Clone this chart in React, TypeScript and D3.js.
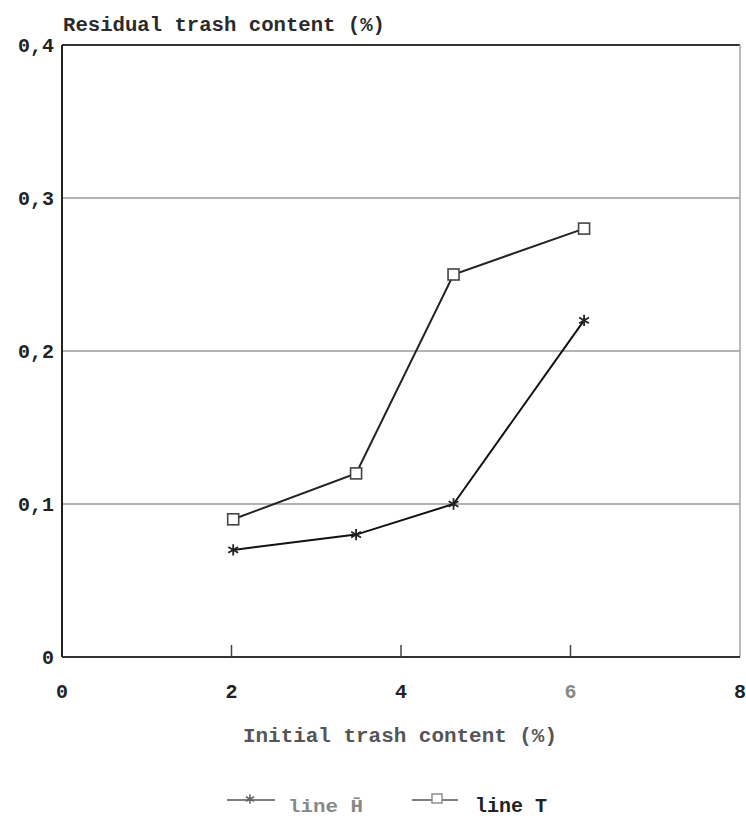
import React from 'react';
import * as d3 from 'd3';

// initial trash content (%)
const initialTrash = [2.02, 3.47, 4.62, 6.16];
// residual trash content (%)
const lineH = [0.07, 0.08, 0.1, 0.22];
const lineT = [0.09, 0.12, 0.25, 0.28];

const xTicks = [0, 2, 4, 6, 8];
const yTicks = [0, 0.1, 0.2, 0.3, 0.4];
const yTickLabels = ['0', '0,1', '0,2', '0,3', '0,4'];

const W = 746;
const H = 820;
const margin = { top: 45, right: 6, bottom: 163, left: 62 };
const font = '"Liberation Mono", "DejaVu Sans Mono", monospace';

const App = () => {
  const x = d3.scaleLinear().domain([0, 8]).range([margin.left, W - margin.right]);
  const y = d3.scaleLinear().domain([0, 0.4]).range([H - margin.bottom, margin.top]);

  const line = d3.line<[number, number]>().x(d => x(d[0])).y(d => y(d[1]));
  const ptsH = initialTrash.map((v, i) => [v, lineH[i]] as [number, number]);
  const ptsT = initialTrash.map((v, i) => [v, lineT[i]] as [number, number]);

  const star = d3.symbol().type(d3.symbolAsterisk).size(90)() as string;
  const starSmall = d3.symbol().type(d3.symbolAsterisk).size(60)() as string;
  const sq = 11;

  const x0 = x(0), x8 = x(8), y0 = y(0), y4 = y(0.4);

  return (
    <svg width={W} height={H} style={{ position: 'absolute', left: 0, top: 0, background: '#fff' }}>
      <rect width={W} height={H} fill="#fff" />
      {/* grid lines */}
      {yTicks.slice(1, 4).map(t => (
        <line key={t} x1={x0} x2={x8} y1={y(t)} y2={y(t)} stroke="#9a9a9a" strokeWidth={1.6} />
      ))}
      {/* frame */}
      <line x1={x0} x2={x8} y1={y4} y2={y4} stroke="#333" strokeWidth={2} />
      <line x1={x8} x2={x8} y1={y4} y2={y0} stroke="#aaa" strokeWidth={1.6} />
      <line x1={x0} x2={x0} y1={y4} y2={y0} stroke="#222" strokeWidth={2} />
      <line x1={x0} x2={x8} y1={y0} y2={y0} stroke="#333" strokeWidth={2} />
      {xTicks.slice(1, 4).map(t => (
        <line key={t} x1={x(t)} x2={x(t)} y1={y0} y2={y0 - 12} stroke="#444" strokeWidth={1.5} />
      ))}
      {/* y tick labels */}
      {yTicks.map((t, i) => (
        <text key={t} x={x0 - 8} y={y(t) + 7} textAnchor="end" fontFamily={font} fontWeight="bold" fontSize={20} fill="#222">
          {yTickLabels[i]}
        </text>
      ))}
      {/* x tick labels */}
      {xTicks.map(t => (
        <text key={t} x={x(t)} y={y0 + 41} textAnchor="middle" fontFamily={font} fontWeight="bold" fontSize={20} fill={t === 6 ? '#888' : '#222'}>
          {t}
        </text>
      ))}
      {/* titles */}
      <text x={63} y={31} fontFamily={font} fontWeight="bold" fontSize={20} fill="#2a2a2a" textLength={322} lengthAdjust="spacingAndGlyphs">
        Residual trash content (%)
      </text>
      <text x={243} y={742} fontFamily={font} fontWeight="bold" fontSize={20} fill="#555" textLength={314} lengthAdjust="spacingAndGlyphs">
        Initial trash content (%)
      </text>
      {/* series lines */}
      <path d={line(ptsT) || ''} fill="none" stroke="#222" strokeWidth={2} />
      <path d={line(ptsH) || ''} fill="none" stroke="#111" strokeWidth={2} />
      {ptsT.map((p, i) => (
        <rect key={i} x={x(p[0]) - sq / 2} y={y(p[1]) - sq / 2} width={sq} height={sq} fill="#fff" stroke="#444" strokeWidth={1.6} />
      ))}
      {ptsH.map((p, i) => (
        <path key={i} d={star} transform={`translate(${x(p[0])},${y(p[1])})`} fill="none" stroke="#222" strokeWidth={1.8} />
      ))}
      {/* legend */}
      <line x1={227} x2={275} y1={800} y2={800} stroke="#555" strokeWidth={1.6} />
      <path d={starSmall} transform="translate(250,799)" fill="none" stroke="#666" strokeWidth={1.6} />
      <text x={288} y={812} fontFamily={font} fontWeight="bold" fontSize={19} fill="#888" textLength={75} lengthAdjust="spacingAndGlyphs">line H̄</text>
      <line x1={412} x2={458} y1={800} y2={800} stroke="#555" strokeWidth={1.6} />
      <rect x={432} y={794} width={10} height={9} fill="#fff" stroke="#888" strokeWidth={1.4} />
      <text x={475} y={812} fontFamily={font} fontWeight="bold" fontSize={20} fill="#222" textLength={72} lengthAdjust="spacingAndGlyphs">line T</text>
    </svg>
  );
};

export default App;
